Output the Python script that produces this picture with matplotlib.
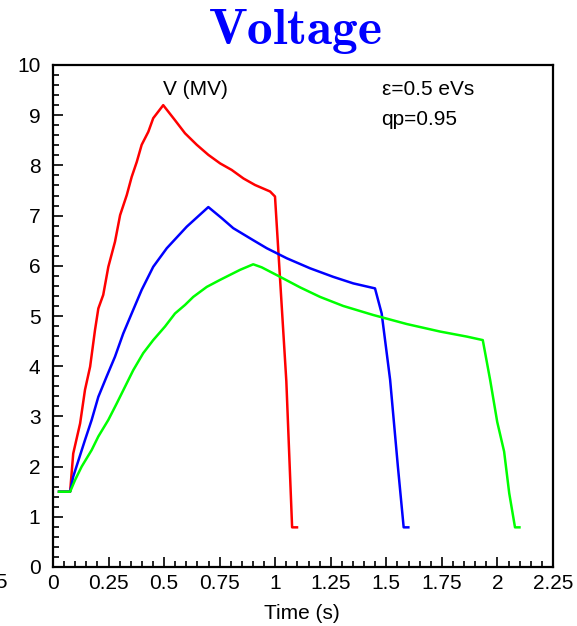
import matplotlib
matplotlib.use("Agg")
import matplotlib.pyplot as plt
from matplotlib.ticker import MultipleLocator
import matplotlib.transforms as mtransforms

plt.rcParams['font.family'] = ['Liberation Sans', 'DejaVu Sans']
plt.rcParams['mathtext.fontset'] = 'cm'

# RF voltage programs (time in s, voltage in MV)
t_red = [0.027, 0.077, 0.091, 0.122, 0.144, 0.167, 0.189, 0.204, 0.226, 0.249,
         0.279, 0.302, 0.332, 0.354, 0.377, 0.399, 0.429, 0.451, 0.496, 0.549,
         0.594, 0.647, 0.699, 0.752, 0.804, 0.857, 0.909, 0.977, 0.999, 1.050,
         1.076, 1.098]
v_red = [1.5, 1.5, 2.26, 2.86, 3.53, 3.99, 4.72, 5.15, 5.42, 5.98,
         6.48, 7.01, 7.41, 7.77, 8.07, 8.41, 8.67, 8.94, 9.20, 8.90,
         8.64, 8.41, 8.21, 8.04, 7.91, 7.74, 7.61, 7.48, 7.38, 3.70,
         0.79, 0.79]

t_blue = [0.027, 0.077, 0.091, 0.144, 0.174, 0.204, 0.241, 0.279, 0.316, 0.354,
          0.399, 0.451, 0.512, 0.602, 0.699, 0.759, 0.811, 0.901, 0.962, 1.052,
          1.157, 1.261, 1.351, 1.449, 1.479, 1.517, 1.552, 1.578, 1.599]
v_blue = [1.5, 1.5, 1.80, 2.53, 2.93, 3.39, 3.79, 4.19, 4.65, 5.05,
          5.52, 5.98, 6.35, 6.78, 7.17, 6.95, 6.75, 6.51, 6.35, 6.15,
          5.95, 5.78, 5.65, 5.55, 5.05, 3.73, 2.00, 0.79, 0.79]

t_green = [0.027, 0.077, 0.099, 0.129, 0.174, 0.204, 0.249, 0.287, 0.324, 0.361,
           0.406, 0.451, 0.504, 0.549, 0.594, 0.631, 0.692, 0.752, 0.842, 0.901,
           0.939, 1.022, 1.112, 1.202, 1.306, 1.441, 1.592, 1.742, 1.862, 1.934,
           1.967, 1.999, 2.030, 2.053, 2.079, 2.099]
v_green = [1.5, 1.5, 1.73, 2.00, 2.33, 2.60, 2.93, 3.26, 3.59, 3.92,
           4.26, 4.52, 4.79, 5.05, 5.22, 5.38, 5.58, 5.72, 5.92, 6.03,
           5.97, 5.78, 5.57, 5.38, 5.20, 5.02, 4.84, 4.69, 4.59, 4.52,
           3.73, 2.89, 2.30, 1.47, 0.79, 0.79]

xticks = [0, 0.25, 0.5, 0.75, 1, 1.25, 1.5, 1.75, 2, 2.25]
xticklabels = ["0", "0.25", "0.5", "0.75", "1", "1.25", "1.5", "1.75", "2", "2.25"]

FS = 15

fig = plt.figure(figsize=(5.77, 6.26), dpi=100)
ax = fig.add_axes([53/577, 1 - 567/626, 500/577, 502/626])

ax.plot(t_red, v_red, color='#ff0000', lw=1.8)
ax.plot(t_blue, v_blue, color='#0000ff', lw=1.8)
ax.plot(t_green, v_green, color='#00ff00', lw=1.8)

ax.set_xlim(0, 2.25)
ax.set_ylim(0, 10)
ax.set_xticks(xticks)
ax.set_xticklabels(xticklabels)
ax.set_yticks(range(0, 11))
ax.xaxis.set_minor_locator(MultipleLocator(0.05))
ax.yaxis.set_minor_locator(MultipleLocator(0.2))
ax.tick_params(which='both', direction='in', top=False, right=False, width=1.2)
ax.tick_params(which='major', length=7)
ax.tick_params(which='minor', length=4)
ax.tick_params(axis='both', labelsize=FS)
ax.tick_params(axis='y', pad=9)
ax.tick_params(axis='x', pad=5)
for s in ax.spines.values():
    s.set_linewidth(1.6)

# leftmost label spilling past the frame
trans = mtransforms.blended_transform_factory(ax.transData, ax.get_xaxis_transform())
ax.text(-0.203, -0.012, "-0.25", transform=trans, ha='right', va='top',
        fontsize=FS, clip_on=False)

ax.set_xlabel("Time (s)", fontsize=FS)
ax.xaxis.set_label_coords(0.497, -0.074)

ax.text(0.285, 0.952, "V (MV)", transform=ax.transAxes, ha='center', va='center',
        fontsize=FS)
ax.text(0.657, 0.952, "ε=0.5 eVs", transform=ax.transAxes, ha='left', va='center',
        fontsize=FS)
ax.text(0.657, 0.892, "qp=0.95", transform=ax.transAxes, ha='left', va='center',
        fontsize=FS)

fig.text(295/577, 1 - 32/626, r"$\mathbf{Voltage}$", color='#0000ff',
         fontsize=37, ha='center', va='center')

fig.savefig("out.png", dpi=100)
